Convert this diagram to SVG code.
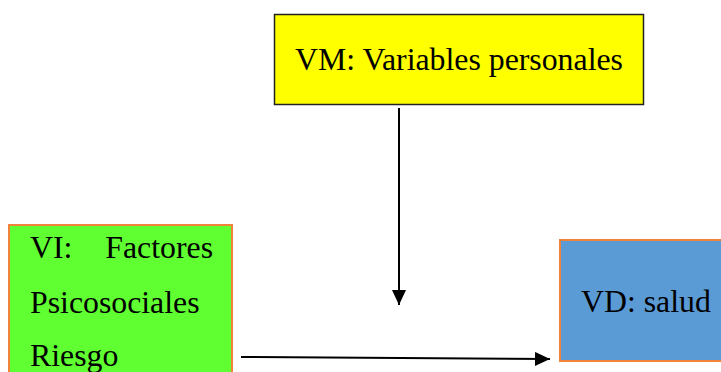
<svg xmlns="http://www.w3.org/2000/svg" width="721" height="372" viewBox="0 0 721 372">
  <defs>
    <marker id="ah" viewBox="0 0 15 14" refX="15" refY="7" markerWidth="15" markerHeight="14" markerUnits="userSpaceOnUse" orient="auto">
      <path d="M0,0 L15,7 L0,14 Z" fill="#000"/>
    </marker>
    <style>
      .t { font-family: "Liberation Serif", "Times New Roman", serif; font-size: 31.8px; fill: #000; }
      .conn { stroke: #000; stroke-width: 2; fill: none; }
    </style>
  </defs>
  <rect width="721" height="372" fill="#fff"/>
  <g id="vm">
    <rect x="274.5" y="14.5" width="369" height="90" fill="#ffff00" stroke="#222" stroke-width="1.5"/>
    <text class="t" x="459" y="70" text-anchor="middle">VM: Variables personales</text>
  </g>
  <g id="vi">
    <rect x="9" y="225" width="223" height="160" fill="#5fff32" stroke="#f0823a" stroke-width="2"/>
    <text class="t" x="30" y="258">VI:</text>
    <text class="t" x="213" y="258" text-anchor="end">Factores</text>
    <text class="t" x="30" y="313">Psicosociales</text>
    <text class="t" x="30" y="366">Riesgo</text>
  </g>
  <g id="vd">
    <rect x="560" y="240" width="170" height="121" fill="#5b9bd5" stroke="#f0823a" stroke-width="2"/>
    <text class="t" x="581" y="312">VD: salud</text>
  </g>
  <g id="connectors">
    <line class="conn" x1="399" y1="108" x2="399" y2="305" marker-end="url(#ah)"/>
    <path class="conn" d="M241,357 L550,359" marker-end="url(#ah)"/>
  </g>
</svg>
